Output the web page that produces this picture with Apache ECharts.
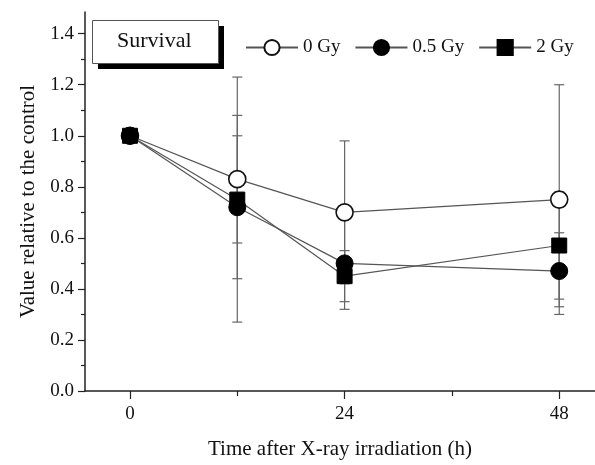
<!DOCTYPE html>
<html>
<head>
<meta charset="utf-8">
<script src="https://cdn.jsdelivr.net/npm/echarts@6/dist/echarts.min.js"></script>
<style>
  html, body { margin: 0; padding: 0; background: #fff; }
  #main { width: 595px; height: 465px; }
</style>
</head>
<body>
<div id="main"></div>
<script>
// data
var hours = [0, 12, 24, 48];
var gy0 = [1.0, 0.83, 0.70, 0.75];
var gy0Hi = [1.0, 1.23, 0.98, 1.20];
var gy0Lo = [1.0, 0.44, 0.42, 0.30];
var gy05 = [1.0, 0.72, 0.50, 0.47];
var gy05Hi = [1.0, 1.00, 0.68, 0.62];
var gy05Lo = [1.0, 0.27, 0.32, 0.33];
var gy2 = [1.0, 0.75, 0.45, 0.57];
var gy2Hi = [1.0, 1.08, 0.55, 0.78];
var gy2Lo = [1.0, 0.58, 0.35, 0.36];
var xLabels = [0, 24, 48];
var xMinor = [12, 36];
var yLabels = [0, 0.2, 0.4, 0.6, 0.8, 1.0, 1.2, 1.4];
var yMinor = [0.1, 0.3, 0.5, 0.7, 0.9, 1.1, 1.3];

var FONT = '"Liberation Serif", "DejaVu Serif", serif';

function pairs(ys) {
    return hours.map(function (h, i) { return [h, ys[i]]; });
}
function bars(lo, hi) {
    return hours.map(function (h, i) { return [h, lo[i], hi[i]]; });
}

// error bar drawing
function errRender(params, api) {
    var x = api.value(0);
    var p1 = api.coord([x, api.value(1)]);
    var p2 = api.coord([x, api.value(2)]);
    var w = 5;
    var st = { stroke: '#666', lineWidth: 1.2 };
    return {
        type: 'group',
        children: [
            { type: 'line', shape: { x1: p1[0], y1: p1[1], x2: p2[0], y2: p2[1] }, style: st },
            { type: 'line', shape: { x1: p1[0] - w, y1: p1[1], x2: p1[0] + w, y2: p1[1] }, style: st },
            { type: 'line', shape: { x1: p2[0] - w, y1: p2[1], x2: p2[0] + w, y2: p2[1] }, style: st }
        ]
    };
}

function errSeries(lo, hi) {
    return {
        type: 'custom',
        renderItem: errRender,
        data: bars(lo, hi),
        silent: true,
        z: 1
    };
}

var lineBase = {
    type: 'line',
    lineStyle: { color: '#555', width: 1.2 },
    z: 3
};

var myChart = echarts.init(document.getElementById('main'));

var option = {
    animation: false,
    backgroundColor: '#fff',
    textStyle: { fontFamily: FONT },
    grid: { left: 85, right: 0, top: 12, bottom: 69 },
    legend: {
        left: 240,
        top: 33,
        itemWidth: 52,
        itemHeight: 19,
        itemGap: 14,
        textStyle: { fontFamily: FONT, fontSize: 19, color: '#111' },
        data: ['0 Gy', '0.5 Gy', '2 Gy']
    },
    graphic: [
        { type: 'rect', left: 98, top: 26, shape: { width: 126, height: 43 }, style: { fill: '#000' }, z: 10 },
        { type: 'rect', left: 92, top: 20, shape: { width: 126, height: 43 }, style: { fill: '#fff', stroke: '#555', lineWidth: 1 }, z: 11 },
        { type: 'text', left: 117, top: 30, style: { text: 'Survival', font: '22px ' + FONT, fill: '#111' }, z: 12 }
    ],
    xAxis: [{
        type: 'value',
        min: -5.03,
        max: 52,
        name: 'Time after X-ray irradiation (h)',
        nameLocation: 'middle',
        nameGap: 48,
        nameTextStyle: { fontFamily: FONT, fontSize: 21, color: '#111' },
        splitLine: { show: false },
        axisLine: { onZero: false, lineStyle: { color: '#222', width: 1.5 } },
        axisTick: { customValues: xLabels, length: 8, lineStyle: { color: '#222', width: 1.2 } },
        axisLabel: { customValues: xLabels, fontFamily: FONT, fontSize: 19, color: '#111', margin: 14 }
    }, {
        type: 'value',
        min: -5.03,
        max: 52,
        position: 'bottom',
        splitLine: { show: false },
        axisLine: { show: false, onZero: false },
        axisTick: { customValues: xMinor, length: 5, lineStyle: { color: '#222', width: 1.2 } },
        axisLabel: { show: false }
    }],
    yAxis: [{
        type: 'value',
        min: 0,
        max: 1.485,
        name: 'Value relative to the control',
        nameLocation: 'middle',
        nameGap: 46,
        nameTextStyle: { fontFamily: FONT, fontSize: 21, color: '#111' },
        splitLine: { show: false },
        axisLine: { show: true, onZero: false, lineStyle: { color: '#222', width: 1.5 } },
        axisTick: { show: true, customValues: yLabels, length: 7, lineStyle: { color: '#222', width: 1.2 } },
        axisLabel: {
            customValues: yLabels, fontFamily: FONT, fontSize: 19, color: '#111', margin: 11,
            formatter: function (v) { return v.toFixed(1); }
        }
    }, {
        type: 'value',
        min: 0,
        max: 1.485,
        position: 'left',
        splitLine: { show: false },
        axisLine: { show: false, onZero: false },
        axisTick: { show: true, customValues: yMinor, length: 4, lineStyle: { color: '#222', width: 1.2 } },
        axisLabel: { show: false }
    }],
    series: [
        errSeries(gy0Lo, gy0Hi),
        errSeries(gy05Lo, gy05Hi),
        errSeries(gy2Lo, gy2Hi),
        Object.assign({}, lineBase, {
            name: '0 Gy',
            data: pairs(gy0),
            symbol: 'circle',
            symbolSize: 17,
            itemStyle: { color: '#fff', borderColor: '#111', borderWidth: 1.6 }
        }),
        Object.assign({}, lineBase, {
            name: '0.5 Gy',
            data: pairs(gy05),
            symbol: 'circle',
            symbolSize: 17,
            itemStyle: { color: '#000', borderColor: '#000', borderWidth: 1 }
        }),
        Object.assign({}, lineBase, {
            name: '2 Gy',
            data: pairs(gy2),
            symbol: 'rect',
            symbolSize: 15,
            itemStyle: { color: '#000', borderColor: '#000', borderWidth: 1 }
        })
    ]
};

myChart.setOption(option);
</script>
</body>
</html>
